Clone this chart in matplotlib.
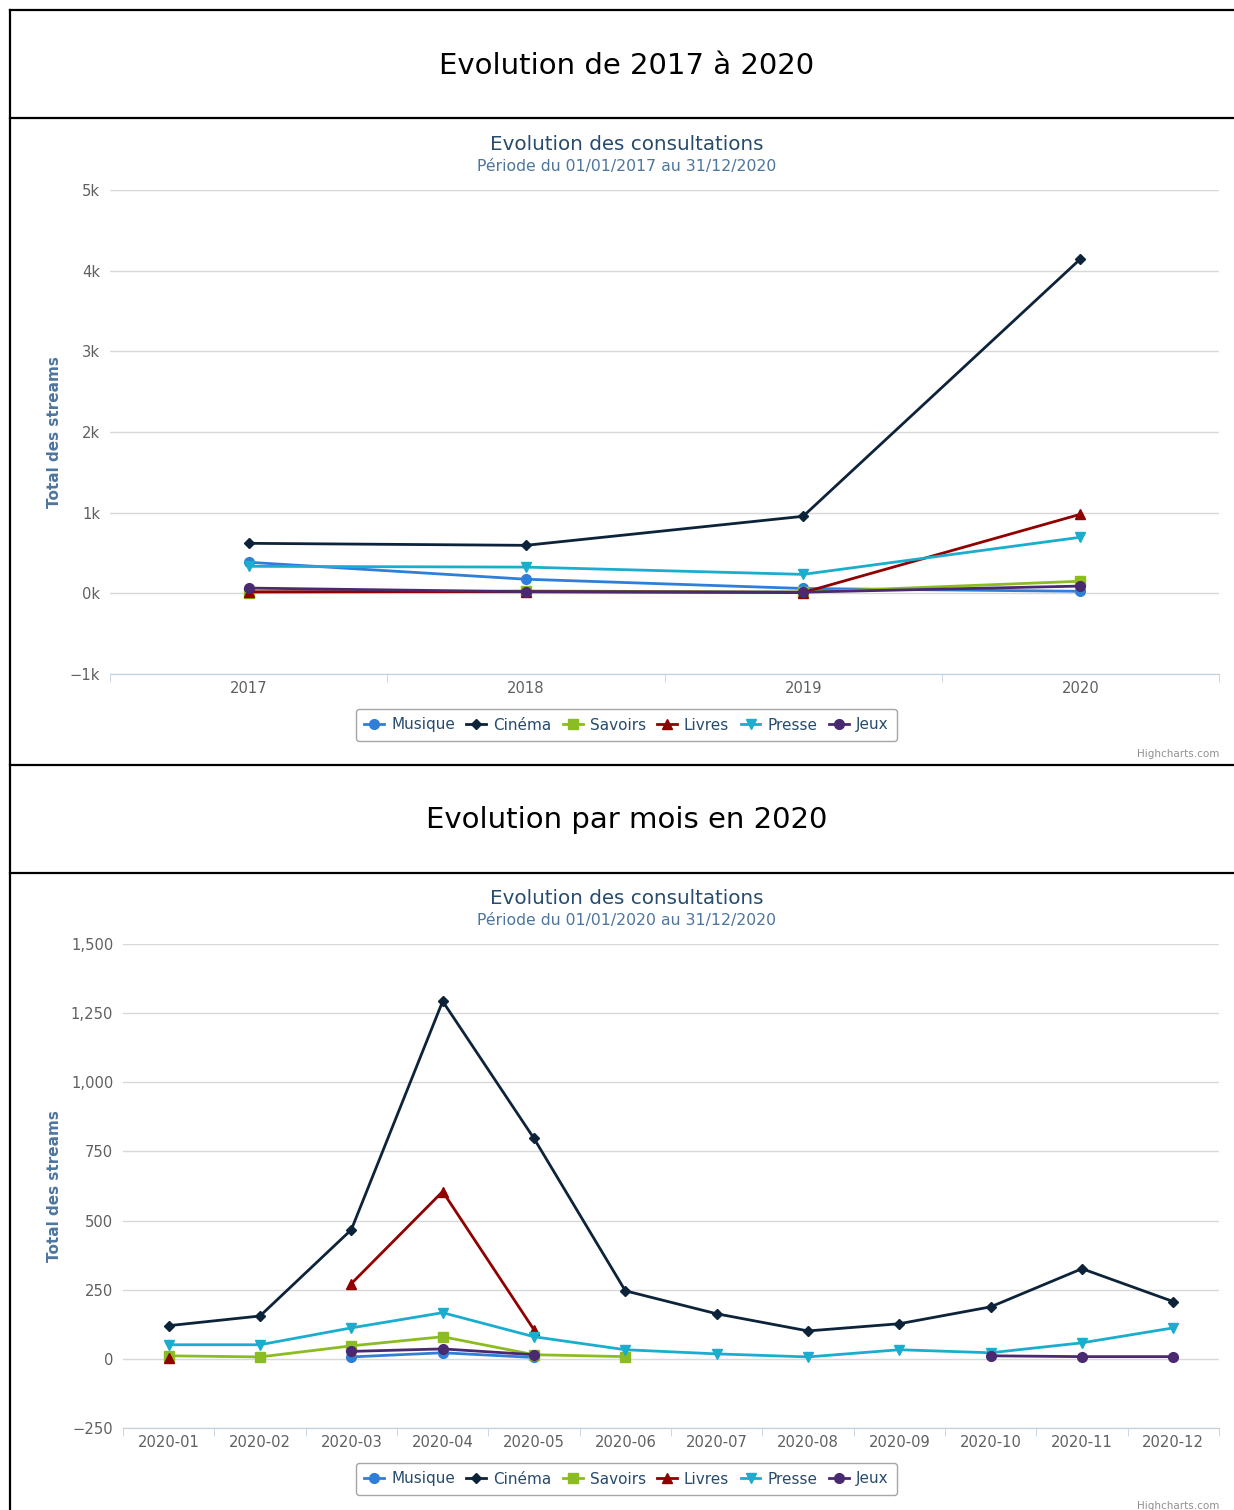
import matplotlib.pyplot as plt
from matplotlib.lines import Line2D
from matplotlib.ticker import FuncFormatter, FixedLocator

plt.rcParams['font.family'] = ['DejaVu Sans']

series = ["Musique", "Cinéma", "Savoirs", "Livres", "Presse", "Jeux"]
colors = ["#2f7ed8", "#0d233a", "#8bbc21", "#910000", "#1aadce", "#492970"]
markers = ["o", "D", "s", "^", "v", "o"]
msizes = [7, 5.5, 6.5, 7, 7, 7]

# yearly totals 2017-2020
years = ["2017", "2018", "2019", "2020"]
musique_y = [385, 175, 60, 25]
cinema_y = [620, 595, 955, 4145]
savoirs_y = [10, 30, 15, 150]
livres_y = [20, 20, 10, 980]
presse_y = [335, 325, 235, 695]
jeux_y = [65, 20, 15, 90]

# monthly totals 2020 (None = no data)
months = ["2020-01", "2020-02", "2020-03", "2020-04", "2020-05", "2020-06",
          "2020-07", "2020-08", "2020-09", "2020-10", "2020-11", "2020-12"]
musique_m = [None, None, 7, 22, 5, None, None, None, None, None, None, None]
cinema_m = [120, 155, 467, 1293, 797, 246, 163, 101, 127, 188, 326, 207]
savoirs_m = [11, 7, 47, 80, 15, 8, None, None, None, None, None, None]
livres_m = [4, None, 272, 605, 105, None, None, None, None, None, None, None]
presse_m = [51, 51, 112, 167, 80, 33, 18, 7, 33, 22, 58, 112]
jeux_m = [None, None, 27, 36, 15, None, None, None, None, 11, 8, 8]

W, H = 1234, 1510
fig = plt.figure(figsize=(W / 100, H / 100), dpi=100)


def fx(px):
    return px / W


def fy(py):
    return 1 - py / H


# boxes / border lines
for y in [10, 118, 765, 873]:
    fig.add_artist(Line2D([fx(10), 1], [fy(y), fy(y)], color="black", lw=1.6))
fig.add_artist(Line2D([fx(10), fx(10)], [fy(10), 0], color="black", lw=1.6))

fig.text(0.508, fy(66), "Evolution de 2017 à 2020", ha="center", va="center",
         fontsize=21, color="black")
fig.text(0.508, fy(820), "Evolution par mois en 2020", ha="center", va="center",
         fontsize=21, color="black")


def draw_chart(rect, cats, data, ylim, yticks, yfmt, title_y, sub, leg_y, credit_y, label_y):
    ax = fig.add_axes(rect)
    x = list(range(len(cats)))
    for name, vals, c, m, ms in zip(series, data, colors, markers, msizes):
        ys = [float("nan") if v is None else v for v in vals]
        ax.plot(x, ys, color=c, lw=2, marker=m, markersize=ms, label=name)
    ax.set_xlim(-0.5, len(cats) - 0.5)
    ax.set_ylim(*ylim)
    ax.set_yticks(yticks)
    ax.yaxis.set_major_formatter(FuncFormatter(yfmt))
    ax.set_xticks(x)
    ax.set_xticklabels(cats)
    ax.xaxis.set_minor_locator(FixedLocator([i - 0.5 for i in range(len(cats) + 1)]))
    ax.tick_params(axis="x", which="major", length=0, labelsize=10.6, colors="#606060", pad=5)
    ax.tick_params(axis="x", which="minor", length=6, color="#c0d0e0", direction="out")
    ax.tick_params(axis="y", length=0, labelsize=10.6, colors="#606060", pad=7)
    ax.grid(axis="y", color="#d8d8d8", lw=1)
    ax.set_axisbelow(True)
    for s in ["top", "right", "left"]:
        ax.spines[s].set_visible(False)
    ax.spines["bottom"].set_color("#c0d0e0")
    fig.text(fx(55), label_y, "Total des streams", rotation=90, ha="center", va="center",
             fontsize=11, color="#4d759e", fontweight="semibold")
    fig.text(0.508, fy(title_y), "Evolution des consultations", ha="center", va="center",
             fontsize=14.3, color="#274b6d")
    fig.text(0.508, fy(title_y + 22), sub, ha="center", va="center",
             fontsize=11.3, color="#4d759e")
    leg = fig.legend(*ax.get_legend_handles_labels(), loc="center",
                     bbox_to_anchor=(0.5075, fy(leg_y)), ncol=6, fontsize=11,
                     frameon=True, fancybox=True, edgecolor="#909090",
                     handlelength=1.3, handletextpad=0.45, columnspacing=0.75,
                     borderpad=0.55, labelcolor="#274b6d")
    leg.get_frame().set_linewidth(1)
    fig.text(fx(1219), fy(credit_y), "Highcharts.com", ha="right", va="center",
             fontsize=7.5, color="#909090")
    return ax


draw_chart([fx(110), fy(674), fx(1109), 484 / H], years,
           [musique_y, cinema_y, savoirs_y, livres_y, presse_y, jeux_y],
           (-1000, 5000), range(-1000, 5001, 1000),
           lambda v, p: ("%dk" % (v / 1000)).replace("-", "\u2212"),
           144, "Période du 01/01/2017 au 31/12/2020", 725, 754, fy(432))

draw_chart([fx(123), fy(1428), fx(1096), 484 / H], months,
           [musique_m, cinema_m, savoirs_m, livres_m, presse_m, jeux_m],
           (-250, 1500), range(-250, 1501, 250),
           lambda v, p: ("{:,}".format(int(v))).replace("-", "\u2212"),
           898, "Période du 01/01/2020 au 31/12/2020", 1479, 1506, fy(1186))

fig.savefig("out.png", dpi=100)
